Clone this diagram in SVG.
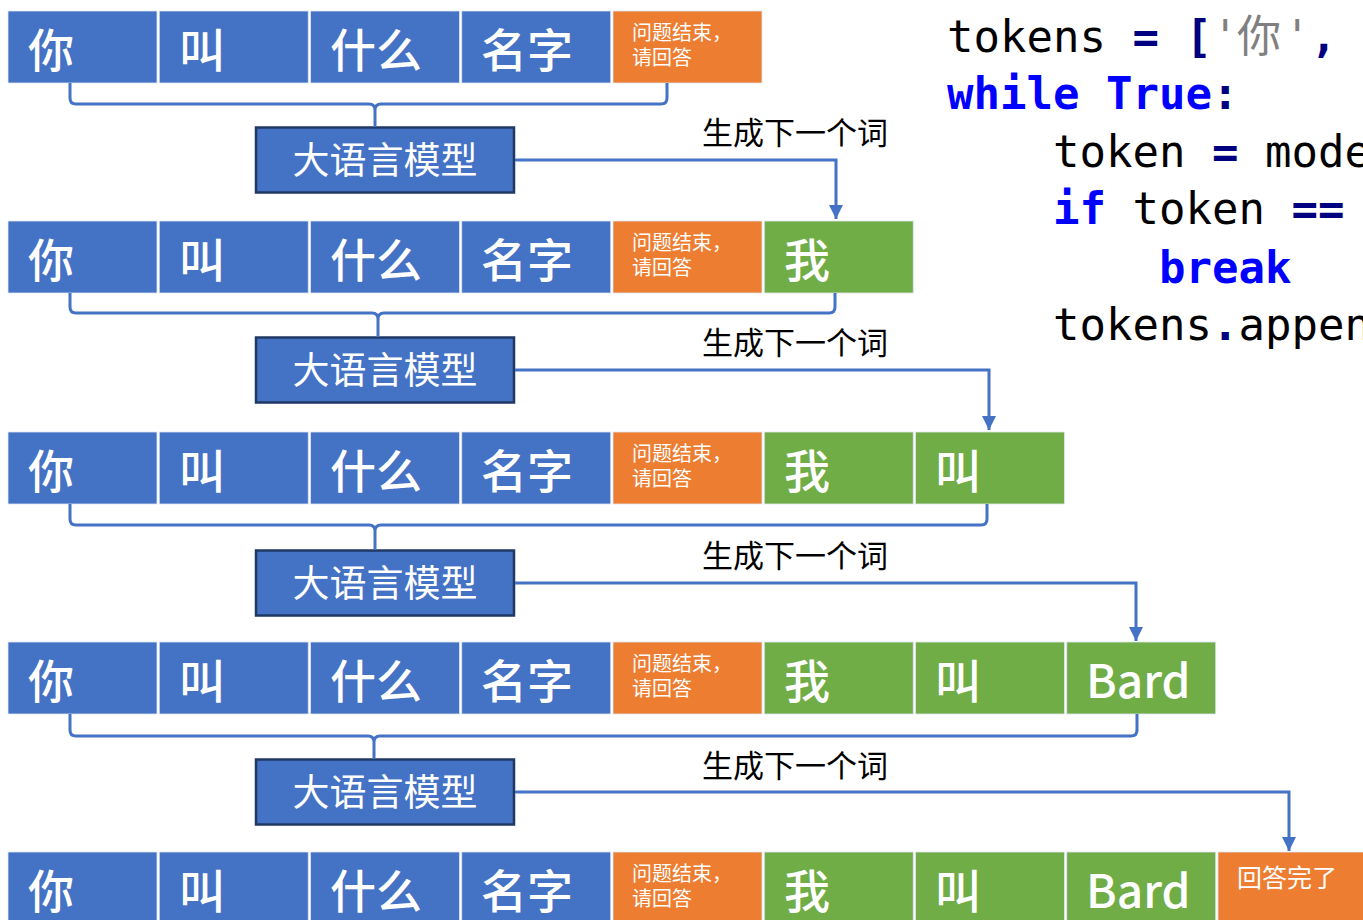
<svg xmlns="http://www.w3.org/2000/svg" width="1363" height="920" viewBox="0 0 1363 920">
<style>
.b{fill:#4472C4}
.o{fill:#ED7D31}
.g{fill:#70AD47}
.cell{stroke:#dfe6f3;stroke-width:0.8}
.t{font-family:"Noto Sans CJK SC","Noto Sans",sans-serif;fill:#fff;font-size:46px;font-weight:500}
.s{font-family:"Noto Sans CJK SC",sans-serif;fill:#fff;font-size:20px}
.a{font-family:"Noto Sans CJK SC",sans-serif;fill:#fff;font-size:25px}
.m{fill:#4472C4;stroke:#1F3864;stroke-width:2.5}
.mt{font-family:"Noto Sans CJK SC",sans-serif;fill:#fff;font-size:37px;text-anchor:middle}
.lb{font-family:"Noto Sans CJK SC",sans-serif;fill:#000;font-size:31px}
.br{fill:none;stroke:#4472C4;stroke-width:3}
.ar{fill:none;stroke:#4472C4;stroke-width:3}
.code{font-family:"DejaVu Sans Mono","Noto Sans CJK SC",monospace;font-size:44px;fill:#000}
.kw{fill:#0000FF;font-weight:bold}
.op{fill:#000080;font-weight:bold}
.st{fill:#808080;font-weight:normal}
</style>
<defs>
<marker id="ah" viewBox="0 0 14 14" refX="14" refY="7" markerWidth="14" markerHeight="14" markerUnits="userSpaceOnUse" orient="auto">
<path d="M0,0 L14,7 L0,14 z" fill="#4472C4"/>
</marker>
</defs>

<!-- Row 1 -->
<g id="row1">
<g id="r1c1"><rect class="b cell" x="8" y="11" width="149" height="72"/><text class="t" x="28" y="67">你</text></g>
<g id="r1c2"><rect class="b cell" x="159.25" y="11" width="149" height="72"/><text class="t" x="179" y="67">叫</text></g>
<g id="r1c3"><rect class="b cell" x="310.5" y="11" width="149" height="72"/><text class="t" x="330" y="67">什么</text></g>
<g id="r1c4"><rect class="b cell" x="461.75" y="11" width="149" height="72"/><text class="t" x="481" y="67">名字</text></g>
<g id="r1c5"><rect class="o cell" x="613" y="11" width="149" height="72"/><text class="s"><tspan x="632" y="40">问题结束，</tspan><tspan x="632" y="65">请回答</tspan></text></g>
</g>
<g id="model1"><rect class="m" x="256" y="127.5" width="258" height="65"/><text class="mt" x="385" y="174">大语言模型</text></g>
<g id="label1"><text class="lb" x="702" y="144">生成下一个词</text></g>

<!-- Row 2 -->
<g id="row2">
<g id="r2c1"><rect class="b cell" x="8" y="221" width="149" height="72"/><text class="t" x="28" y="277">你</text></g>
<g id="r2c2"><rect class="b cell" x="159.25" y="221" width="149" height="72"/><text class="t" x="179" y="277">叫</text></g>
<g id="r2c3"><rect class="b cell" x="310.5" y="221" width="149" height="72"/><text class="t" x="330" y="277">什么</text></g>
<g id="r2c4"><rect class="b cell" x="461.75" y="221" width="149" height="72"/><text class="t" x="481" y="277">名字</text></g>
<g id="r2c5"><rect class="o cell" x="613" y="221" width="149" height="72"/><text class="s"><tspan x="632" y="250">问题结束，</tspan><tspan x="632" y="275">请回答</tspan></text></g>
<g id="r2c6"><rect class="g cell" x="764.25" y="221" width="149" height="72"/><text class="t" x="784" y="277">我</text></g>
</g>
<g id="model2"><rect class="m" x="256" y="337.5" width="258" height="65"/><text class="mt" x="385" y="384">大语言模型</text></g>
<g id="label2"><text class="lb" x="702" y="354">生成下一个词</text></g>

<!-- Row 3 -->
<g id="row3">
<g id="r3c1"><rect class="b cell" x="8" y="432" width="149" height="72"/><text class="t" x="28" y="488">你</text></g>
<g id="r3c2"><rect class="b cell" x="159.25" y="432" width="149" height="72"/><text class="t" x="179" y="488">叫</text></g>
<g id="r3c3"><rect class="b cell" x="310.5" y="432" width="149" height="72"/><text class="t" x="330" y="488">什么</text></g>
<g id="r3c4"><rect class="b cell" x="461.75" y="432" width="149" height="72"/><text class="t" x="481" y="488">名字</text></g>
<g id="r3c5"><rect class="o cell" x="613" y="432" width="149" height="72"/><text class="s"><tspan x="632" y="461">问题结束，</tspan><tspan x="632" y="486">请回答</tspan></text></g>
<g id="r3c6"><rect class="g cell" x="764.25" y="432" width="149" height="72"/><text class="t" x="784" y="488">我</text></g>
<g id="r3c7"><rect class="g cell" x="915.5" y="432" width="149" height="72"/><text class="t" x="935" y="488">叫</text></g>
</g>
<g id="model3"><rect class="m" x="256" y="550.5" width="258" height="65"/><text class="mt" x="385" y="597">大语言模型</text></g>
<g id="label3"><text class="lb" x="702" y="567">生成下一个词</text></g>

<!-- Row 4 -->
<g id="row4">
<g id="r4c1"><rect class="b cell" x="8" y="642" width="149" height="72"/><text class="t" x="28" y="698">你</text></g>
<g id="r4c2"><rect class="b cell" x="159.25" y="642" width="149" height="72"/><text class="t" x="179" y="698">叫</text></g>
<g id="r4c3"><rect class="b cell" x="310.5" y="642" width="149" height="72"/><text class="t" x="330" y="698">什么</text></g>
<g id="r4c4"><rect class="b cell" x="461.75" y="642" width="149" height="72"/><text class="t" x="481" y="698">名字</text></g>
<g id="r4c5"><rect class="o cell" x="613" y="642" width="149" height="72"/><text class="s"><tspan x="632" y="671">问题结束，</tspan><tspan x="632" y="696">请回答</tspan></text></g>
<g id="r4c6"><rect class="g cell" x="764.25" y="642" width="149" height="72"/><text class="t" x="784" y="698">我</text></g>
<g id="r4c7"><rect class="g cell" x="915.5" y="642" width="149" height="72"/><text class="t" x="935" y="698">叫</text></g>
<g id="r4c8"><rect class="g cell" x="1066.75" y="642" width="149" height="72"/><text class="t" x="1086" y="698">Bard</text></g>
</g>
<g id="model4"><rect class="m" x="256" y="759.5" width="258" height="65"/><text class="mt" x="385" y="806">大语言模型</text></g>
<g id="label4"><text class="lb" x="702" y="777">生成下一个词</text></g>

<!-- Row 5 -->
<g id="row5">
<g id="r5c1"><rect class="b cell" x="8" y="852" width="149" height="80"/><text class="t" x="28" y="908">你</text></g>
<g id="r5c2"><rect class="b cell" x="159.25" y="852" width="149" height="80"/><text class="t" x="179" y="908">叫</text></g>
<g id="r5c3"><rect class="b cell" x="310.5" y="852" width="149" height="80"/><text class="t" x="330" y="908">什么</text></g>
<g id="r5c4"><rect class="b cell" x="461.75" y="852" width="149" height="80"/><text class="t" x="481" y="908">名字</text></g>
<g id="r5c5"><rect class="o cell" x="613" y="852" width="149" height="80"/><text class="s"><tspan x="632" y="881">问题结束，</tspan><tspan x="632" y="906">请回答</tspan></text></g>
<g id="r5c6"><rect class="g cell" x="764.25" y="852" width="149" height="80"/><text class="t" x="784" y="908">我</text></g>
<g id="r5c7"><rect class="g cell" x="915.5" y="852" width="149" height="80"/><text class="t" x="935" y="908">叫</text></g>
<g id="r5c8"><rect class="g cell" x="1066.75" y="852" width="149" height="80"/><text class="t" x="1086" y="908">Bard</text></g>
<g id="r5c9"><rect class="o cell" x="1218" y="852" width="160" height="80"/><text class="a" x="1237" y="887">回答完了</text></g>
</g>

<!-- Connectors -->
<g id="connectors">
<path class="br" d="M70,83 V98 Q70,104 76,104 H369 Q375,104 375,110 V127 M375,110 Q375,104 381,104 H661 Q667,104 667,98 V83"/>
<path class="br" d="M70,293 V307 Q70,313 76,313 H372 Q378,313 378,319 V337 M378,319 Q378,313 384,313 H829 Q835,313 835,307 V293"/>
<path class="br" d="M70,504 V519 Q70,525 76,525 H369 Q375,525 375,531 V550 M375,531 Q375,525 381,525 H981 Q987,525 987,519 V504"/>
<path class="br" d="M70,714 V730 Q70,736 76,736 H368 Q374,736 374,742 V759 M374,742 Q374,736 380,736 H1131 Q1137,736 1137,730 V714"/>
<path class="ar" d="M515,160 H836 V219" marker-end="url(#ah)"/>
<path class="ar" d="M515,370 H989 V430" marker-end="url(#ah)"/>
<path class="ar" d="M515,583 H1136 V641" marker-end="url(#ah)"/>
<path class="ar" d="M515,792 H1289 V851" marker-end="url(#ah)"/>
</g>

<!-- Code -->
<g id="code" class="code">
<text x="947" y="52">tokens <tspan class="op">=</tspan> <tspan class="op">[</tspan><tspan class="st">'</tspan><tspan class="st" x="1237">你</tspan><tspan class="st" x="1284">'</tspan><tspan class="op">,</tspan></text>
<text x="947" y="109"><tspan class="kw">while</tspan> <tspan class="kw">True</tspan><tspan class="op">:</tspan></text>
<text x="1053" y="167">token <tspan class="op">=</tspan> mode</text>
<text x="1053" y="224"><tspan class="kw">if</tspan> token <tspan class="op">==</tspan></text>
<text x="1159" y="283" class="kw">break</text>
<text x="1053" y="340">tokens<tspan class="op">.</tspan>appen</text>
</g>
</svg>
